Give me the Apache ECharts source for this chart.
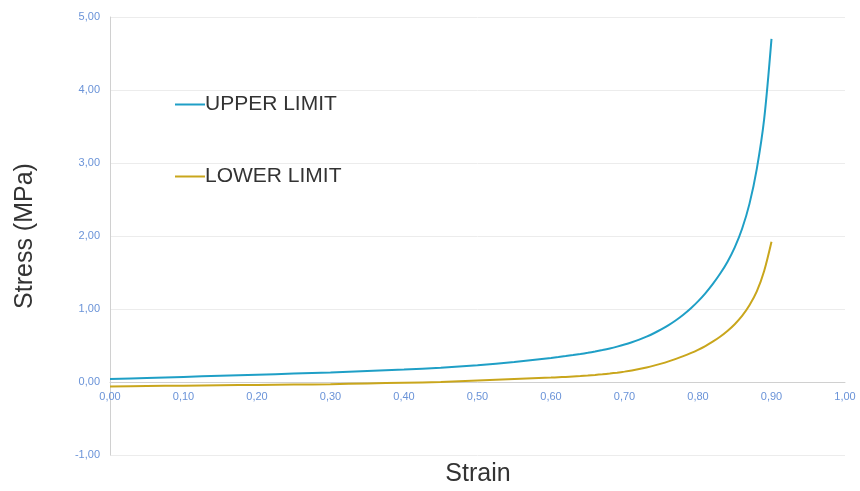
<!DOCTYPE html>
<html>
<head>
<meta charset="utf-8">
<script src="https://cdn.jsdelivr.net/npm/echarts@6/dist/echarts.min.js"></script>
<style>html,body{margin:0;padding:0;background:#fff;}#c{width:860px;height:491px;}</style>
</head>
<body>
<div id="c"></div>
<script>
var strain = [0.00,0.05,0.10,0.15,0.20,0.25,0.30,0.35,0.40,0.45,0.50,0.55,
  0.60,0.61,0.62,0.63,0.64,0.65,0.66,0.67,0.68,0.69,0.70,0.71,0.72,0.73,0.74,0.75,
  0.76,0.77,0.78,0.79,0.80,0.81,0.82,0.83,0.84,0.85,0.86,0.87,0.88,0.89,0.90];
var stressUpper = [0.04,0.055,0.07,0.085,0.10,0.115,0.13,0.15,0.17,0.195,0.23,0.275,
  0.330,0.342,0.355,0.369,0.384,0.400,0.418,0.438,0.460,0.485,0.513,0.545,0.581,0.622,0.668,0.720,
  0.779,0.846,0.922,1.008,1.105,1.215,1.340,1.482,1.645,1.845,2.10,2.44,2.92,3.60,4.70];
var stressLower = [-0.06,-0.055,-0.05,-0.045,-0.04,-0.035,-0.03,-0.02,-0.01,0.00,0.02,0.04,
  0.060,0.065,0.070,0.076,0.082,0.089,0.097,0.106,0.116,0.128,0.142,0.158,0.177,0.199,0.224,0.252,
  0.283,0.317,0.354,0.395,0.441,0.493,0.552,0.620,0.699,0.792,0.905,1.05,1.24,1.52,1.92];
var seriesNames = ['UPPER LIMIT','LOWER LIMIT'];
var xTitle = 'Strain';
var yTitle = 'Stress (MPa)';

function pairs(xs, ys){ return xs.map(function(x,i){ return [x, ys[i]]; }); }
function fmt(v){ return v.toFixed(2).replace('.', ','); }
var FF = 'Liberation Sans, Arial, sans-serif';

var chart = echarts.init(document.getElementById('c'));
chart.setOption({
  animation: false,
  grid: { left: 110, right: 15, top: 17, bottom: 36, containLabel: false },
  legend: {
    orient: 'vertical', left: 170, top: 89, itemGap: 51,
    icon: 'rect', itemWidth: 30, itemHeight: 2,
    textStyle: { fontSize: 21, color: '#333', fontFamily: FF, padding: [0,0,0,-5] },
    data: seriesNames
  },
  xAxis: {
    type: 'value', min: 0, max: 1, interval: 0.1,
    offset: -73,
    axisLine: { onZero: false, lineStyle: { color: '#d0d0d0' } },
    axisTick: { show: false },
    splitLine: { show: false },
    axisLabel: { formatter: fmt, fontSize: 11, color: '#6a93d8', margin: 9, fontFamily: FF }
  },
  yAxis: {
    type: 'value', min: -1, max: 5, interval: 1,
    axisLine: { show: true, lineStyle: { color: '#d0d0d0' } },
    axisTick: { show: false },
    splitLine: { show: true, lineStyle: { color: '#ececec' } },
    axisLabel: { formatter: fmt, fontSize: 11, color: '#6a93d8', margin: 10, fontFamily: FF }
  },
  graphic: [
    { type: 'text', x: 478, y: 474, style: { text: xTitle, fontSize: 25, fill: '#333', fontFamily: FF, align: 'center', verticalAlign: 'middle' } },
    { type: 'text', x: 25, y: 236, rotation: Math.PI/2, style: { text: yTitle, fontSize: 25, fill: '#333', fontFamily: FF, align: 'center', verticalAlign: 'middle' } }
  ],
  series: [
    { name: seriesNames[0], type: 'line', smooth: 0.3, showSymbol: false, symbol: 'none',
      data: pairs(strain, stressUpper), lineStyle: { color: '#1f9fc6', width: 2 }, itemStyle: { color: '#1f9fc6' } },
    { name: seriesNames[1], type: 'line', smooth: 0.3, showSymbol: false, symbol: 'none',
      data: pairs(strain, stressLower), lineStyle: { color: '#c9a61c', width: 2 }, itemStyle: { color: '#c9a61c' } }
  ]
});
</script>
</body>
</html>
